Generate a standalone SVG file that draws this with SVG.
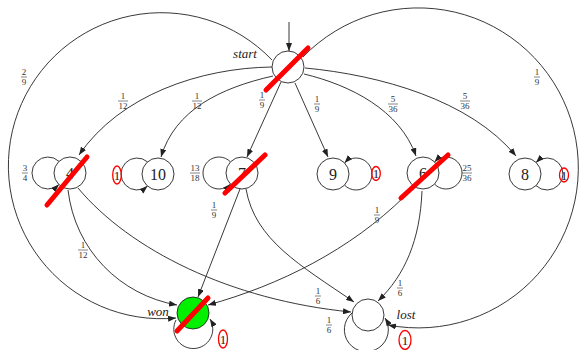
<svg xmlns="http://www.w3.org/2000/svg" width="582" height="350" viewBox="0 0 582 350">
<style>
.e{fill:none;stroke:#222;stroke-width:0.9}
.ea{fill:none;stroke:#222;stroke-width:0.9;marker-end:url(#ah)}
.n{fill:#fff;stroke:#222;stroke-width:0.9}
.w{fill:#00f000;stroke:#222;stroke-width:0.9}
.t{font-family:"Liberation Serif","DejaVu Serif",serif;font-size:16px;text-anchor:middle;fill:#222}
.it{font-family:"Liberation Serif","DejaVu Serif",serif;font-style:italic;font-size:13px;text-anchor:middle;fill:#222}
.f{font-family:"Liberation Serif","DejaVu Serif",serif;font-size:9px;text-anchor:middle;fill:#333}
.fl{stroke:#333;stroke-width:0.6}
.x{stroke:#ff0000;stroke-width:5;stroke-linecap:round}
.r{fill:none;stroke:#ff0000;stroke-width:1.3}
.one{font-family:"Liberation Serif","DejaVu Serif",serif;font-size:13px;text-anchor:middle;fill:#222}
</style>
<defs>
<marker id="ah" markerUnits="userSpaceOnUse" markerWidth="8" markerHeight="6" refX="8" refY="3" orient="auto">
<path d="M0,0 L8,3 L0,6 z" fill="#222"/>
</marker>
</defs>
<g id="connectors">
<line class="ea" x1="289" y1="22" x2="289" y2="51"/>
<path class="ea" d="M272,60 A153,153 0 1 0 176,318"/>
<path class="ea" d="M303,57 A160,160 0 1 1 388,325"/>
<path class="ea" d="M272,67 C200,68 120,95 79,155"/>
<path class="ea" d="M273,76 C220,88 175,110 161,157"/>
<path class="ea" d="M281,82 L247,157"/>
<path class="ea" d="M295,83 L328,157"/>
<path class="ea" d="M304,74 C350,85 400,110 416,156"/>
<path class="ea" d="M305,68 C380,75 470,100 516,156"/>
<path class="ea" d="M68,190 C75,250 120,295 177,305"/>
<path class="ea" d="M78,188 C130,250 230,300 351,312"/>
<path class="ea" d="M246,189 C255,240 300,265 354,302"/>
<path class="ea" d="M240,189 L198,297"/>
<path class="ea" d="M405,196 C350,250 280,285 208,305"/>
<path class="ea" d="M422,191 C420,240 405,275 378,301"/>
<path class="ea" d="M59,161.4 A16,16 0 1 0 59,184.6"/>
<path class="ea" d="M147.5,161.9 A16,16 0 1 0 147.5,186.1"/>
<path class="ea" d="M230.5,161.9 A16,16 0 1 0 230.5,184.1"/>
<path class="ea" d="M344.5,185.1 A16,16 0 1 0 344.5,162.9"/>
<path class="ea" d="M434.5,184.1 A16,16 0 1 0 434.5,161.9"/>
<path class="ea" d="M536,185.6 A16,16 0 1 0 536,162.4"/>
<path class="ea" d="M176,320 A19.5,19.5 0 1 0 210,319"/>
<path class="ea" d="M352,313 A22,22 0 1 0 385,318"/>
<g transform="translate(24,77)"><text class="f" y="-1.8">2</text><line class="fl" x1="-3" x2="3"/><text class="f" y="7.8">9</text></g>
<g transform="translate(123,101)"><text class="f" y="-1.8">1</text><line class="fl" x1="-5" x2="5"/><text class="f" y="7.8">12</text></g>
<g transform="translate(197,101)"><text class="f" y="-1.8">1</text><line class="fl" x1="-5" x2="5"/><text class="f" y="7.8">12</text></g>
<g transform="translate(262,100)"><text class="f" y="-1.8">1</text><line class="fl" x1="-3" x2="3"/><text class="f" y="7.8">9</text></g>
<g transform="translate(317,104)"><text class="f" y="-1.8">1</text><line class="fl" x1="-3" x2="3"/><text class="f" y="7.8">9</text></g>
<g transform="translate(393,104)"><text class="f" y="-1.8">5</text><line class="fl" x1="-5" x2="5"/><text class="f" y="7.8">36</text></g>
<g transform="translate(465,101)"><text class="f" y="-1.8">5</text><line class="fl" x1="-5" x2="5"/><text class="f" y="7.8">36</text></g>
<g transform="translate(537,77)"><text class="f" y="-1.8">1</text><line class="fl" x1="-3" x2="3"/><text class="f" y="7.8">9</text></g>
<g transform="translate(25,173)"><text class="f" y="-1.8">3</text><line class="fl" x1="-3" x2="3"/><text class="f" y="7.8">4</text></g>
<g transform="translate(195,173)"><text class="f" y="-1.8">13</text><line class="fl" x1="-5" x2="5"/><text class="f" y="7.8">18</text></g>
<g transform="translate(467,173)"><text class="f" y="-1.8">25</text><line class="fl" x1="-5" x2="5"/><text class="f" y="7.8">36</text></g>
<g transform="translate(214,210)"><text class="f" y="-1.8">1</text><line class="fl" x1="-3" x2="3"/><text class="f" y="7.8">9</text></g>
<g transform="translate(83,250)"><text class="f" y="-1.8">1</text><line class="fl" x1="-5" x2="5"/><text class="f" y="7.8">12</text></g>
<g transform="translate(377,215)"><text class="f" y="-1.8">1</text><line class="fl" x1="-3" x2="3"/><text class="f" y="7.8">9</text></g>
<g transform="translate(400,288)"><text class="f" y="-1.8">1</text><line class="fl" x1="-3" x2="3"/><text class="f" y="7.8">6</text></g>
<g transform="translate(318,296)"><text class="f" y="-1.8">1</text><line class="fl" x1="-3" x2="3"/><text class="f" y="7.8">6</text></g>
<g transform="translate(329,325)"><text class="f" y="-1.8">1</text><line class="fl" x1="-3" x2="3"/><text class="f" y="7.8">6</text></g>
</g>
<g id="start"><circle class="n" cx="288" cy="67" r="16"/><text class="it" x="245" y="58">start</text><line class="x" x1="266" y1="90" x2="308" y2="48"/></g>
<g id="n4"><circle class="n" cx="70" cy="173" r="16"/><text class="t" x="70" y="178.5">4</text><line class="x" x1="47" y1="205" x2="87" y2="157"/></g>
<g id="n10"><circle class="n" cx="158" cy="174" r="16"/><text class="t" x="158" y="179.5">10</text><ellipse class="r" cx="117" cy="175" rx="4.3" ry="9"/><text class="one" x="117" y="179.5">1</text></g>
<g id="n7"><circle class="n" cx="242" cy="173" r="16"/><text class="t" x="242" y="178.5">7</text><line class="x" x1="225" y1="193" x2="265" y2="155"/></g>
<g id="n9"><circle class="n" cx="333" cy="174" r="16"/><text class="t" x="333" y="179.5">9</text><ellipse class="r" cx="376" cy="173.5" rx="4.3" ry="7"/><text class="one" x="376" y="178">1</text></g>
<g id="n6"><circle class="n" cx="423" cy="173" r="16"/><text class="t" x="423" y="178.5">6</text><line class="x" x1="401" y1="198" x2="448" y2="155"/></g>
<g id="n8"><circle class="n" cx="525" cy="174" r="16"/><text class="t" x="525" y="179.5">8</text><ellipse class="r" cx="564" cy="175" rx="4.5" ry="7"/><text class="one" x="564" y="179.5">1</text></g>
<g id="won"><circle class="w" cx="193" cy="313" r="16"/><text class="it" x="158" y="316">won</text><line class="x" x1="177" y1="331" x2="208" y2="298"/><ellipse class="r" cx="223" cy="339" rx="4.5" ry="9"/><text class="one" x="223" y="343.5">1</text></g>
<g id="lost"><circle class="n" cx="368" cy="315" r="16"/><text class="it" x="406" y="319">lost</text><ellipse class="r" cx="405" cy="340" rx="6" ry="9.5"/><text class="one" x="405" y="344.5">1</text></g>
</svg>
